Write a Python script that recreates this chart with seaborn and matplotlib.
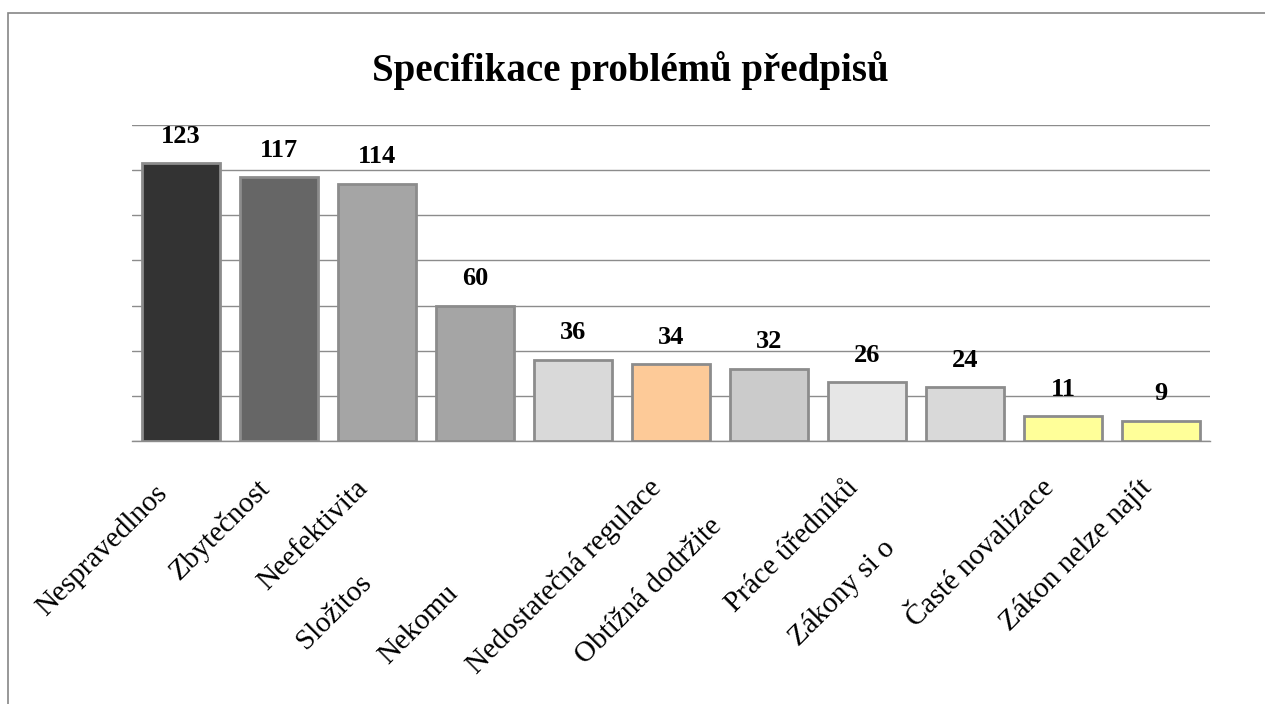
import numpy as np
import matplotlib
matplotlib.use("Agg")
import matplotlib.pyplot as plt
import matplotlib.transforms as mtransforms
from matplotlib.patches import Rectangle
import seaborn as sns

# ------------------------------------------------------------
# DATA
# ------------------------------------------------------------
title = "Specifikace problémů předpisů"

categories = [
    "Nespravedlnos", "Zbytečnost", "Neefektivita", "Složitos", "Nekomu",
    "Nedostatečná regulace", "Obtížná dodržite", "Práce úředníků",
    "Zákony si o", "Časté novalizace", "Zákon nelze najít",
]
values = [123, 117, 114, 60, 36, 34, 32, 26, 24, 11, 9]

bar_colors = [
    "#333333", "#666666", "#a5a5a5", "#a5a5a5", "#d9d9d9",
    "#fdca98", "#cbcbcb", "#e6e6e6", "#d9d9d9", "#ffff99", "#ffff99",
]

# label placement (pixels from category centre / axis line) and anchor side
label_dx = [-135, -8, -8, -169, -185, -8, -184, -8, -166, -8, -8]
label_dy = [-176, -48, -48, -209, -224, -48, -224, -48, -206, -48, -48]
label_ha = ["left", "right", "right", "left", "left", "right",
            "left", "right", "left", "right", "right"]

# ------------------------------------------------------------
# STYLE
# ------------------------------------------------------------
sns.set_style("white")
plt.rcParams["font.family"] = ["Liberation Serif", "DejaVu Serif"]
plt.rcParams["text.color"] = "black"

grid_col = "#8c8c8c"

fig = plt.figure(figsize=(12.65, 7.04), dpi=100)
ax = fig.add_axes([132 / 1265, 1 - 441 / 704, 1078 / 1265, 316 / 704])

sns.barplot(
    x=categories, y=values, hue=categories, palette=bar_colors,
    legend=False, width=0.8, edgecolor=grid_col, linewidth=2,
    saturation=1, ax=ax, zorder=3,
)

ax.set_ylim(0, 140)
ax.set_xlim(-0.5, len(categories) - 0.5)
ax.set_yticks(np.arange(0, 141, 20))
ax.set_yticklabels([])
ax.yaxis.grid(True, color=grid_col, linewidth=1)
ax.set_axisbelow(True)
ax.tick_params(axis="y", length=0)

ax.set_xticks(np.arange(-0.5, len(categories), 1))
ax.set_xticklabels([])
ax.tick_params(axis="x", length=8, width=1, color=grid_col, direction="out")
ax.set_xlabel("")
ax.set_ylabel("")

for side in ["left", "right", "top"]:
    ax.spines[side].set_visible(False)
ax.spines["bottom"].set_color(grid_col)
ax.spines["bottom"].set_linewidth(1)

# value labels above bars
for cont in ax.containers:
    ax.bar_label(cont, padding=11, fontsize=19, fontweight="bold",
                 color="black")

# rotated category labels
for i, lab in enumerate(categories):
    tr = mtransforms.offset_copy(ax.get_xaxis_transform(), fig=fig,
                                 x=label_dx[i], y=label_dy[i], units="dots")
    ax.text(i, 0, lab, transform=tr, rotation=45, rotation_mode="anchor",
            ha=label_ha[i], va="baseline", fontsize=21, color="black",
            clip_on=False)

fig.text(0.498, 1 - 71 / 704, title, ha="center", va="center",
         fontsize=28, fontweight="bold", color="black")

# outer chart frame
fig.add_artist(Rectangle((8 / 1265, -0.1), 1.2, 1.1 - 13 / 704,
                         transform=fig.transFigure, fill=False,
                         edgecolor="#868686", linewidth=1.2))

fig.savefig("out.png", dpi=100)
